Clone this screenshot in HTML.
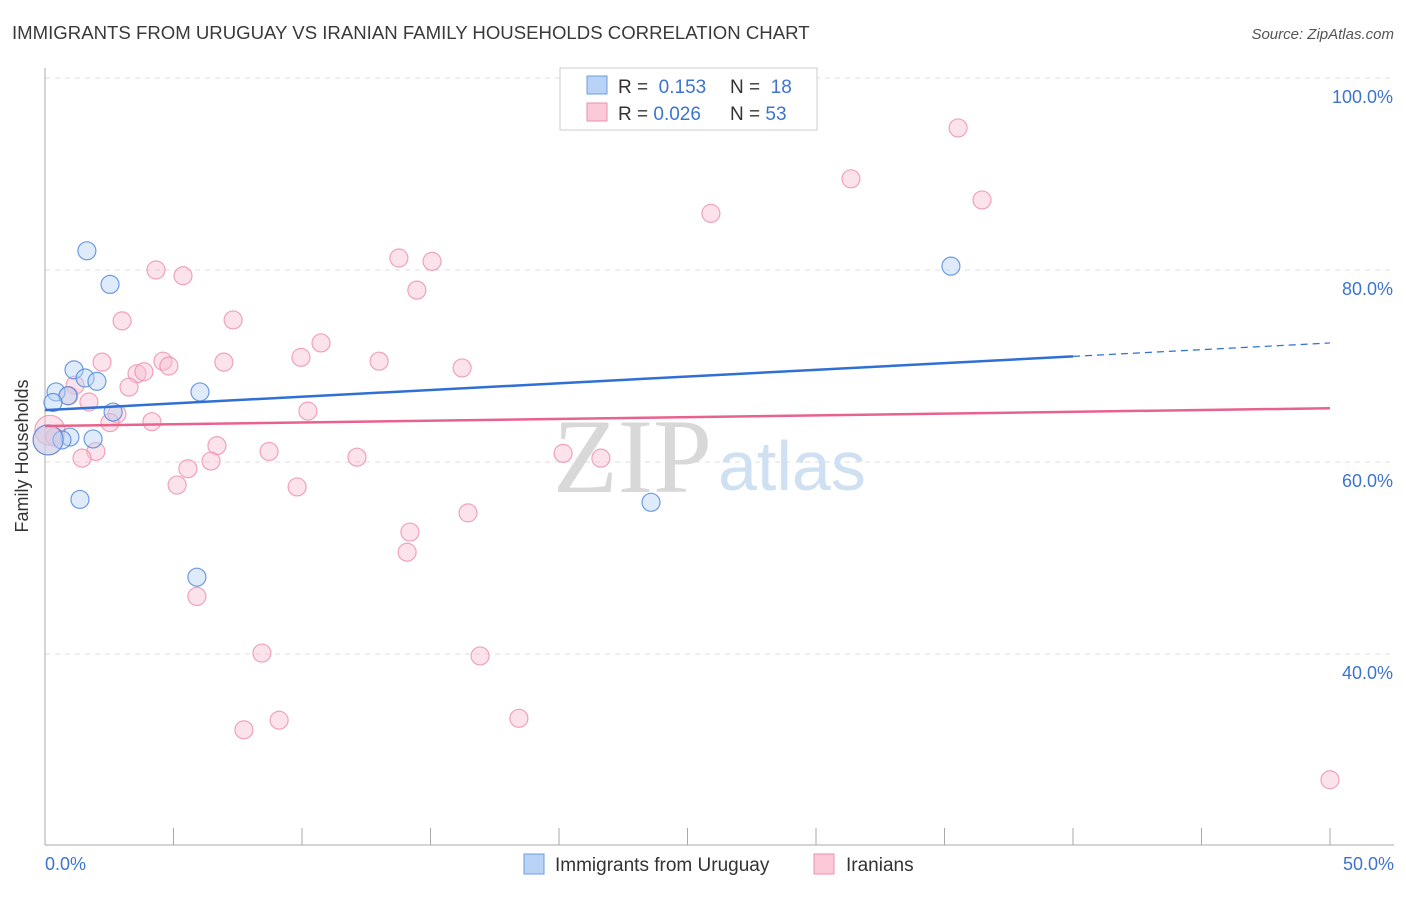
<!DOCTYPE html>
<html><head><meta charset="utf-8"><style>
body{margin:0;background:#fff;font-family:"Liberation Sans",sans-serif}
</style></head><body>
<svg width="1406" height="892" xmlns="http://www.w3.org/2000/svg">
<text x="12" y="39" font-size="18.6" fill="#3a3a3a">IMMIGRANTS FROM URUGUAY VS IRANIAN FAMILY HOUSEHOLDS CORRELATION CHART</text>
<text x="1394" y="39" font-size="15" fill="#555" text-anchor="end" font-style="italic">Source: ZipAtlas.com</text>
<g id="grid"></g>
<text x="553" y="492" font-size="106" fill="#d8d8d8" font-family="Liberation Serif">ZIP</text>
<text x="718" y="490" font-size="70" fill="#cfe0f3">atlas</text>
<line x1="45" y1="68" x2="45" y2="845" stroke="#aaa"/>
<line x1="45" y1="845" x2="1394" y2="845" stroke="#aaa"/>
<g id="xt"></g>
<text x="28" y="456" font-size="18" fill="#333" text-anchor="middle" transform="rotate(-90 28 456)">Family Households</text>
<text x="45" y="870" font-size="18" fill="#3d74d0">0.0%</text>
<text x="1394" y="870" font-size="18" fill="#3d74d0" text-anchor="end">50.0%</text>
<g id="pts"></g>
<g id="trend"></g>
<g>
<rect x="560" y="68" width="257" height="62" fill="#fff" stroke="#ccc"/>
<rect x="587" y="76" width="20" height="18" fill="#b8d3f5" stroke="#6d9ee0"/>
<rect x="587" y="103" width="20" height="18" fill="#fbc9d8" stroke="#ec8fab"/>
<text x="618" y="93" font-size="19" fill="#333">R = <tspan fill="#3d74d0">&#160;0.153</tspan><tspan x="730">N = </tspan><tspan fill="#3d74d0">&#160;18</tspan></text>
<text x="618" y="120" font-size="19" fill="#333">R = <tspan fill="#3d74d0">0.026</tspan><tspan x="730">N = </tspan><tspan fill="#3d74d0">53</tspan></text>
</g>
<g>
<rect x="524" y="854" width="20" height="20" fill="#b8d3f5" stroke="#6d9ee0"/>
<text x="555" y="871" font-size="19" fill="#333">Immigrants from Uruguay</text>
<rect x="814" y="854" width="20" height="20" fill="#fbc9d8" stroke="#ec8fab"/>
<text x="846" y="871" font-size="19" fill="#333">Iranians</text>
</g>
</svg>
<script>
const yTicks=[40,60,80,100];
const yTickLabels=["40.0%","60.0%","80.0%","100.0%"];
const xTicks=[0,5,10,15,20,25,30,35,40,45,50];
const blueX=[1.63,2.53,1.13,1.56,2.02,0.43,0.89,0.31,2.65,6.03,0.97,0.66,1.87,1.36,5.91,23.58,35.25,0.12];
const blueY=[82.0,78.5,69.6,68.75,68.4,67.3,66.9,66.2,65.2,67.3,62.6,62.3,62.4,56.1,48.0,55.8,80.4,62.3];
const pinkX=[35.53,31.36,36.46,25.91,13.77,15.06,4.32,5.37,14.47,3.0,7.32,10.74,9.96,13.0,2.22,4.59,4.82,6.96,3.58,3.85,16.23,3.27,1.17,0.93,1.71,10.23,2.8,2.53,4.16,0.19,0.39,6.69,8.72,1.98,1.44,12.14,20.16,21.63,6.46,5.56,5.14,9.81,16.46,14.2,14.09,5.91,8.44,16.93,9.11,18.44,7.74,50,0.12];
const pinkY=[94.8,89.5,87.3,85.9,81.25,80.9,80.0,79.4,77.9,74.7,74.8,72.4,70.9,70.5,70.4,70.5,70.0,70.4,69.2,69.4,69.8,67.8,68.0,66.9,66.25,65.3,65.0,64.1,64.2,63.3,62.6,61.7,61.1,61.1,60.4,60.5,60.9,60.4,60.1,59.3,57.6,57.4,54.7,52.7,50.6,46.0,40.1,39.8,33.1,33.3,32.1,26.9,62.3];
const blueTrend=[65.4,72.4], pinkTrend=[63.75,65.6];
const NS="http://www.w3.org/2000/svg";
const X=v=>45+v*25.7, Y=v=>78+(100-v)*9.6;
function mk(t,a,p){const e=document.createElementNS(NS,t);for(const k in a)e.setAttribute(k,a[k]);p.appendChild(e);return e;}
const grid=document.getElementById('grid');
yTicks.forEach((v,i)=>{
 const l=mk('line',{x1:45,x2:1394,y1:Y(v),y2:Y(v),stroke:'#ddd','stroke-dasharray':'5,5'},grid);
 
 
 const t=mk('text',{x:1393,y:Y(v)+25,'font-size':18,fill:'#3d74d0','text-anchor':'end'},grid);
 t.textContent=yTickLabels[i];
 
 
});
const xt=document.getElementById('xt');
xTicks.forEach(v=>{
 const l=mk('line',{x1:X(v),x2:X(v),y1:828,y2:845,stroke:'#aaa'},xt);
 
 
});
const pts=document.getElementById('pts');
function dots(xs,ys,fill,stroke,name){xs.forEach((x,i)=>{
 const big=x<0.2;
 const c=mk('circle',{cx:X(x),cy:Y(ys[i]),r:big?15:9,fill:fill,'fill-opacity':0.45,stroke:stroke,'stroke-opacity':0.8,'stroke-width':1.2},pts);
 
 
});}
dots(pinkX,pinkY,'#f9bfd0','#ec8fab','iranians-point');
dots(blueX,blueY,'#b8d3f5','#4a86dc','uruguay-point');
const tr=document.getElementById('trend');
const bAt=v=>blueTrend[0]+(blueTrend[1]-blueTrend[0])*v/50;
let l1=mk('line',{x1:X(0),y1:Y(bAt(0)),x2:X(40),y2:Y(bAt(40)),stroke:'#2f6fd6','stroke-width':2.5},tr);


let l2=mk('line',{x1:X(40),y1:Y(bAt(40)),x2:X(50),y2:Y(bAt(50)),stroke:'#2f6fd6','stroke-width':1.2,'stroke-dasharray':'7,5'},tr);


let l3=mk('line',{x1:X(0),y1:Y(pinkTrend[0]),x2:X(50),y2:Y(pinkTrend[1]),stroke:'#e8628d','stroke-width':2.5},tr);


</script>
</body></html>
